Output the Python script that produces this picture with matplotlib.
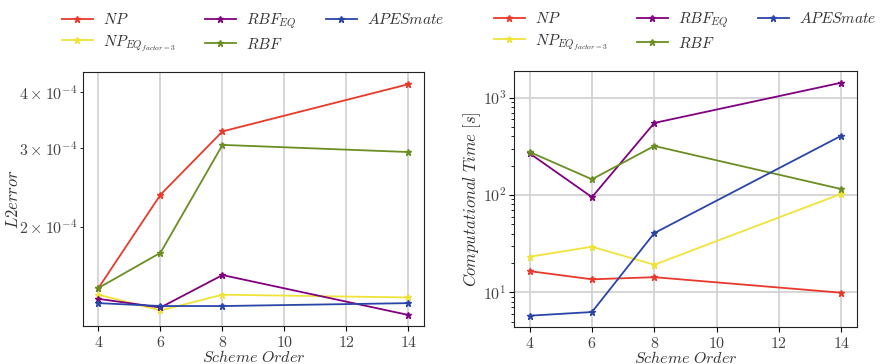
import math
import matplotlib
matplotlib.use("Agg")
import matplotlib.pyplot as plt
from matplotlib.ticker import FuncFormatter, LogLocator, NullFormatter

plt.rcParams['mathtext.fontset'] = 'cm'
plt.rcParams['font.family'] = 'serif'
plt.rcParams['font.serif'] = ['DejaVu Serif']

orders = [4, 6, 8, 14]
labels = [r'$NP$', r'$NP_{EQ_{factor=3}}$', r'$RBF_{EQ}$', r'$RBF$', r'$APESmate$']
colors = ['#e8392a', '#efe33a', '#800080', '#6b8e23', '#2a45a8']

err_NP = [1.46e-4, 2.36e-4, 3.27e-4, 4.17e-4]
err_NPEQ = [1.41e-4, 1.30e-4, 1.41e-4, 1.39e-4]
err_RBFEQ = [1.38e-4, 1.32e-4, 1.56e-4, 1.27e-4]
err_RBF = [1.46e-4, 1.75e-4, 3.05e-4, 2.94e-4]
err_APES = [1.35e-4, 1.33e-4, 1.33e-4, 1.35e-4]

time_NP = [16.5, 13.6, 14.3, 9.9]
time_NPEQ = [23.2, 29.4, 19.2, 103]
time_RBFEQ = [268, 95, 550, 1426]
time_RBF = [277, 145, 319, 115]
time_APES = [5.75, 6.27, 40.6, 407]

errs = [err_NP, err_NPEQ, err_RBFEQ, err_RBF, err_APES]
times = [time_NP, time_NPEQ, time_RBFEQ, time_RBF, time_APES]

fig = plt.figure(figsize=(8.87, 3.64), dpi=100)
ax1 = fig.add_axes([83/887, 1-326/364, (424-83)/887, (326-72)/364])
ax2 = fig.add_axes([514/887, 1-327/364, (857-514)/887, (327-71)/364])

for ax, data in ((ax1, errs), (ax2, times)):
    for y, lab, c in zip(data, labels, colors):
        ax.plot(orders, y, color=c, marker='*', markersize=5, linewidth=1.3, label=lab)
    ax.set_yscale('log')
    ax.set_xticks([4, 6, 8, 10, 12, 14])
    ax.xaxis.set_major_formatter(FuncFormatter(lambda v, p: r'$%d$' % v))
    ax.set_xlim(3.5, 14.5)
    ax.set_xlabel(r'$Scheme\ Order$', fontsize=11.5, color='#333333', labelpad=-1)
    ax.tick_params(which='both', labelsize=11.5, labelcolor='#444444', pad=2)
    for s in ax.spines.values():
        s.set_color('#222222')
    ax.legend(loc='lower center', bbox_to_anchor=(0.5, 1.02), ncol=3, frameon=False,
              fontsize=11, handlelength=2.0, columnspacing=1.9, labelspacing=0.4,
              handletextpad=0.7, labelcolor='#333333')

# left axis
ax1.set_ylim(1.20e-4, 4.44e-4)
ax1.grid(True, axis='x', color='#d0d0d0', linewidth=1.2)
ax1.grid(False, axis='y', which='both')
ax1.yaxis.set_major_formatter(NullFormatter())
ax1.yaxis.set_minor_locator(LogLocator(base=10, subs=[2, 3, 4]))
def minfmt(v, p):
    e = int(math.floor(math.log10(v) + 1e-9))
    m = v / 10**e
    return r'$%d\times10^{%d}$' % (round(m), e)
ax1.yaxis.set_minor_formatter(FuncFormatter(minfmt))
ax1.set_ylabel(r'$L2error$', fontsize=12, color='#333333')
ax1.yaxis.set_label_coords(-0.18, 0.5)
ax1.set_axisbelow(True)

# right axis
ax2.set_ylim(4.4, 1880)
ax2.grid(True, which='major', color='#d0d0d0', linewidth=1.2)
ax2.yaxis.set_major_formatter(FuncFormatter(lambda v, p: r'$10^{%d}$' % round(math.log10(v))))
ax2.set_ylabel(r'$Computational\ Time\ [s]$', fontsize=12, color='#333333')
ax2.yaxis.set_label_coords(-0.09, 0.5)
ax2.set_axisbelow(True)

fig.savefig('out.png', dpi=100)
